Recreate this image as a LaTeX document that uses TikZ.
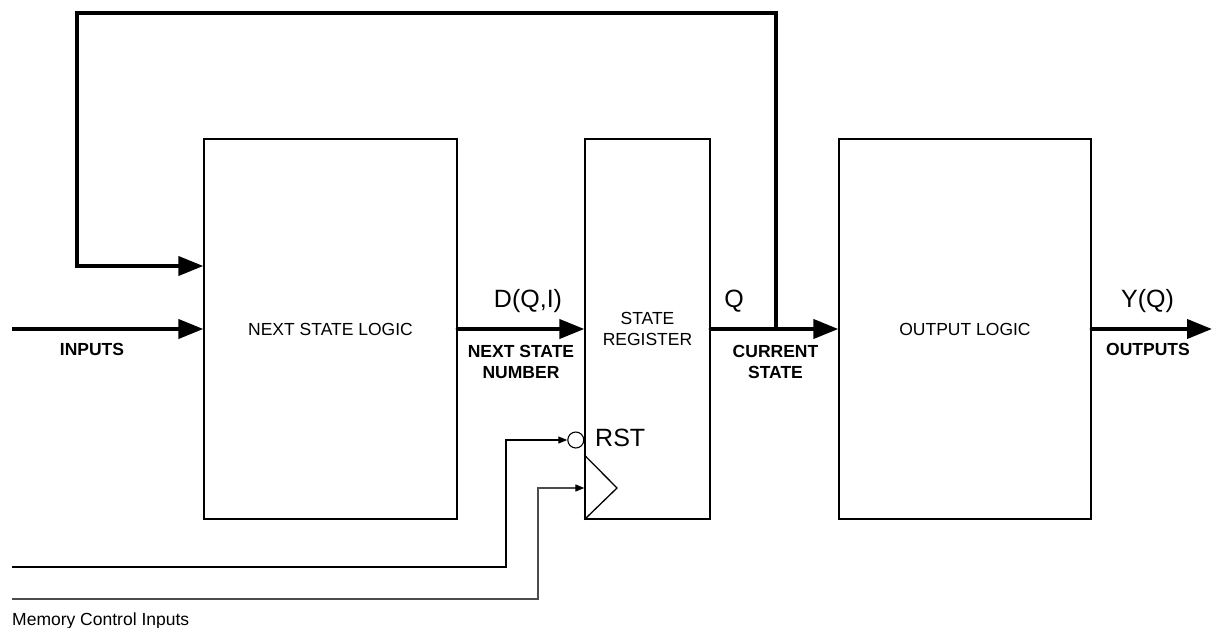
\documentclass[tikz,border=0pt]{standalone}
\usepackage{fontspec}
\setmainfont{Liberation Sans}
\usetikzlibrary{arrows.meta,calc}
\begin{document}
\begin{tikzpicture}[x=1pt,y=-1pt,
  block/.style={draw,line width=1.3pt,rectangle,inner sep=0pt,align=center,
    font=\fontsize{17.5}{20.5}\selectfont},
  bus/.style={line width=4pt,-{Triangle[length=25pt,width=19pt]}},
  busline/.style={line width=4pt},
  thin/.style={line width=1.1pt,-{Triangle[length=9pt,width=7pt,color=black]}},
  biglabel/.style={font=\fontsize{25}{29}\selectfont,anchor=base,inner sep=0pt},
  boldlabel/.style={font=\fontsize{17.5}{21}\selectfont\bfseries,align=center,inner sep=0pt},
  smalllabel/.style={font=\fontsize{17.5}{21}\selectfont,inner sep=0pt}]
\useasboundingbox (0,0) rectangle (1212,628);

% blocks
\node[block,minimum width=253pt,minimum height=380pt] (nsl) at (330.5,329) {NEXT STATE LOGIC};
\node[block,minimum width=125pt,minimum height=380pt] (sr) at (647.5,329) {STATE\\REGISTER};
\node[block,minimum width=252pt,minimum height=380pt] (ol) at (965,329) {OUTPUT LOGIC};

% coordinates
\coordinate (instart) at (12,329);
\coordinate (tap) at (776,329);
\coordinate (fbr) at (776,13);
\coordinate (fbl) at (77,13);
\coordinate (fbin) at ($(nsl.west)+(0,-63)$);
\coordinate (outend) at (1212,329);

% thick buses
\draw[bus] (instart) -- (nsl.west);
\draw[bus,line cap=round] (nsl.east) -- (sr.west);
\draw[bus,line cap=round] (sr.east) -- (ol.west);
\draw[bus,line cap=round] (ol.east) -- (outend);
\draw[busline,line join=miter] (tap) -- (fbr) -- (fbl) -- (fbl |- fbin);
\draw[bus,line join=miter] ($(fbl |- fbin)+(-2,0)$) -- (fbin);

% clock triangle and reset bubble
\coordinate (tri1) at (sr.west |- 0,455);
\coordinate (tri2) at (617,488);
\coordinate (tri3) at (sr.south west);
\draw[line width=1.3pt,line join=miter] (tri1) -- (tri2) -- (tri3);
\node[draw,circle,line width=1.1pt,minimum size=16pt,inner sep=0pt,anchor=east] (rst) at (sr.west |- 0,440) {};
\node[smalllabel,font=\fontsize{25}{29}\selectfont,anchor=west] (rstl) at (595,438) {RST};

% memory control inputs
\coordinate (m1) at (12,567);
\coordinate (m1b) at (506,567);
\coordinate (m2) at (12,599);
\coordinate (m2b) at (538,599);
\coordinate (clk) at (sr.west |- 0,488);
\draw[thin] (m1) -- (m1b) |- (rst.west);
\draw[thin,draw=black!70] (m2) -- (m2b) |- (clk);

% labels
\node[biglabel] (dlab) at (528,307) {D(Q,I)};
\node[biglabel] (qlab) at (734,307) {Q};
\node[biglabel] (ylab) at (1147.5,307) {Y(Q)};
\node[boldlabel] (inl) at (92,349) {INPUTS};
\node[boldlabel] (nsn) at (521,361.5) {NEXT STATE\\NUMBER};
\node[boldlabel] (cs) at (775.5,361.5) {CURRENT\\STATE};
\node[boldlabel] (outl) at (1148,349) {OUTPUTS};
\node[smalllabel,anchor=base west] (mci) at (12,625) {Memory Control Inputs};
\end{tikzpicture}
\end{document}
